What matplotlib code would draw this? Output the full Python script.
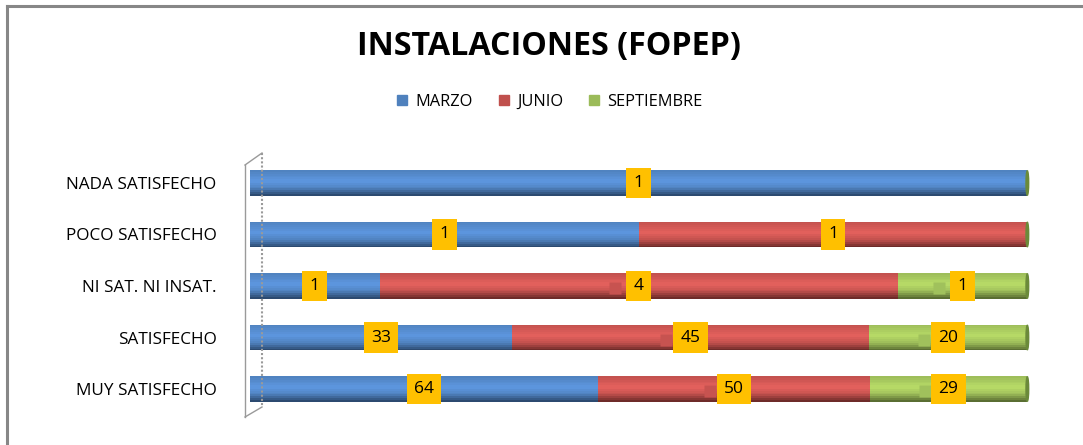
import matplotlib
matplotlib.use("Agg")
import matplotlib.pyplot as plt
import numpy as np
from matplotlib.patches import Patch, Ellipse
from matplotlib.lines import Line2D
from matplotlib.transforms import offset_copy

categories = ["NADA SATISFECHO", "POCO SATISFECHO", "NI SAT. NI INSAT.", "SATISFECHO", "MUY SATISFECHO"]
series = ["MARZO", "JUNIO", "SEPTIEMBRE"]
marzo = [1, 1, 1, 33, 64]
junio = [0, 1, 4, 45, 50]
septiembre = [0, 0, 1, 20, 29]
title = "INSTALACIONES (FOPEP)"

base_colors = ["#4F81BD", "#C0504D", "#9BBB59"]
light_colors = ["#5C95DD", "#E2605C", "#B6D966"]
dark_colors = ["#2C4A70", "#6E2B29", "#5A6E32"]

plt.rcParams['font.family'] = ['Open Sans', 'DejaVu Sans']

fig = plt.figure(figsize=(10.83, 4.45), dpi=100)
W, H = 1083, 445
ax = fig.add_axes([250 / W, (445 - 414.75) / H, 782 / W, 257.5 / H])

data = np.array([marzo, junio, septiembre], dtype=float)
totals = data.sum(axis=0)
pct = data / totals * 100
ypos = np.arange(len(categories))[::-1]  # first category at top

bar_h = 0.5
nstripes = 14
profile = np.concatenate([np.linspace(0.55, 1.0, 6), np.linspace(1.0, 0.0, 8)])

def mix(c1, c2, t):
    a = np.array(matplotlib.colors.to_rgb(c1))
    b = np.array(matplotlib.colors.to_rgb(c2))
    return tuple(a * (1 - t) + b * t)

left = np.zeros(len(categories))
for s in range(len(series)):
    for k in range(nstripes):
        t = profile[k]
        if t >= 0.5:
            col = mix(base_colors[s], light_colors[s], (t - 0.5) * 2)
        else:
            col = mix(dark_colors[s], base_colors[s], t * 2)
        y_off = bar_h / 2 - (k + 0.5) * bar_h / nstripes
        ax.barh(ypos + y_off, pct[s], left=left, height=bar_h / nstripes * 1.02,
                color=col, linewidth=0)
    left = left + pct[s]

# end caps
for i, y in enumerate(ypos):
    ax.add_patch(Ellipse((left[i], y), 0.35, bar_h * 0.95, color="#6B8A3A", zorder=3))

# data labels
left = np.zeros(len(categories))
for s in range(len(series)):
    for i, y in enumerate(ypos):
        v = data[s, i]
        if v > 0:
            xc = left[i] + pct[s, i] / 2
            if s > 0 and septiembre[i] > 0:
                tr = offset_copy(ax.transData, fig=fig, x=-24, y=-2, units='dots')
                ax.plot([xc], [y], marker='s', ms=8, color=mix(base_colors[s], light_colors[s], 0.2),
                        mec='none', transform=tr, zorder=4)
            ax.text(xc, y, f"{int(v)}", ha='center', va='center', fontsize=12.5,
                    color='black', zorder=5,
                    bbox=dict(boxstyle='square,pad=0.42', fc='#FFC000', ec='none'))
    left = left + pct[s]

ax.set_xlim(0, 100.6)
ax.set_ylim(-0.5, len(categories) - 0.5)
ax.set_yticks(ypos)
ax.set_yticklabels(categories, fontsize=12.3)
ax.tick_params(axis='y', length=0, pad=24)
ax.set_xticks([])
for sp in ax.spines.values():
    sp.set_visible(False)

# 3D wall bracket
def fx(px):
    return px / W
def fy(py):
    return 1 - py / H
gray = "#9A9A9A"
fig.add_artist(Line2D([fx(245), fx(245)], [fy(165), fy(417)], color=gray, lw=1))
fig.add_artist(Line2D([fx(245), fx(262)], [fy(165), fy(153)], color=gray, lw=1))
fig.add_artist(Line2D([fx(245), fx(262)], [fy(417), fy(407)], color=gray, lw=1))
fig.add_artist(Line2D([fx(262), fx(262)], [fy(153), fy(407)], color=gray, lw=1.5, ls=(0, (1, 1))))

# frame border
fig.add_artist(Line2D([fx(7), fx(1083)], [fy(5.5), fy(5.5)], color="#878787", lw=2.2))
fig.add_artist(Line2D([fx(7), fx(7)], [fy(5.5), fy(445)], color="#878787", lw=2.2))

fig.text(fx(549), fy(47), title, ha='center', va='center', fontsize=23.2, fontweight='bold',
         family=['Open Sans', 'DejaVu Sans'])

handles = [Patch(color=c) for c in base_colors]
fig.legend(handles, series, loc='center', bbox_to_anchor=(fx(550), fy(102)), ncol=3,
           frameon=False, fontsize=11.8, handlelength=0.6, handleheight=0.6,
           handletextpad=0.5, columnspacing=1.6)

fig.savefig("out.png", dpi=100)
